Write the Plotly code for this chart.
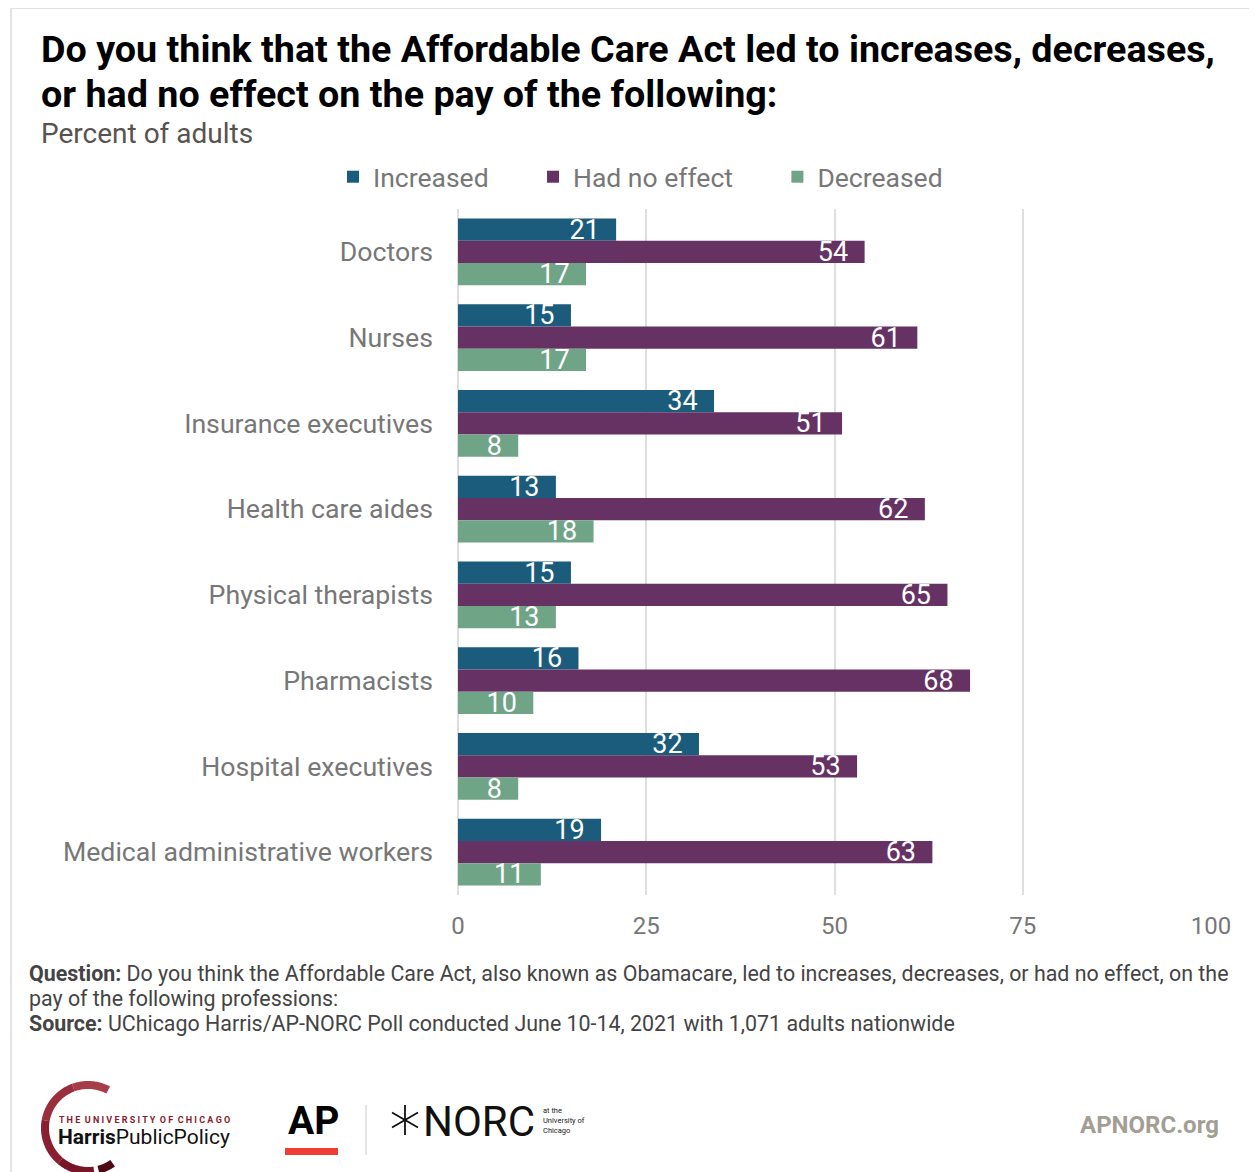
import numpy as np
import plotly.graph_objects as go

categories = ["Doctors", "Nurses", "Insurance executives", "Health care aides",
              "Physical therapists", "Pharmacists", "Hospital executives",
              "Medical administrative workers"]
increased = [21, 15, 34, 13, 15, 16, 32, 19]
no_effect = [54, 61, 51, 62, 65, 68, 53, 63]
decreased = [17, 17, 8, 18, 13, 10, 8, 11]
series_names = ["Increased", "Had no effect", "Decreased"]
series_colors = ["#1b5b7b", "#663264", "#70a487"]
x_ticks = [0, 25, 50, 75, 100]

FONT = "Roboto"

# Window / page geometry (reference pixel coordinates)
WIN_W, WIN_H = 1257, 1172
OFF = 8  # default page body margin
FIG_W, FIG_H = WIN_W - OFF, WIN_H - OFF
L, R, T, B = 458, 1211, 209, 895  # plot area in reference pixels

LEG_PAD = "\u00a0" * 6

fig = go.Figure()
for name, vals, col in zip(series_names, [increased, no_effect, decreased], series_colors):
    fig.add_trace(go.Bar(
        y=categories, x=vals, name=name + LEG_PAD, orientation="h",
        marker=dict(color=col, line=dict(width=0)),
        texttemplate="%{x}\u00a0\u00a0", textposition="inside",
        insidetextanchor="end", textangle=0,
        textfont=dict(family=FONT, size=27, color="white"),
        hoverinfo="skip",
    ))


def px(x):
    return (x - L) / (R - L)


def py(y):
    return (B - y) / (B - T)


annotations = []
shapes = []


def note(x, y, text, size, color, xanchor="left", align="left"):
    annotations.append(dict(x=px(x), y=py(y), xref="paper", yref="paper", xanchor=xanchor,
                            yanchor="middle", text=text, showarrow=False, align=align,
                            font=dict(family=FONT, size=size, color=color)))


# Title
note(39, 49, "<b>Do you think that the Affordable Care Act led to increases, decreases,</b>", 37.7, "#000000")
note(39, 94, "<b>or had no effect on the pay of the following:</b>", 37.7, "#000000")
note(39, 133, "Percent of adults", 28, "#58534e")

# Footer notes
foot = [
    "<b>Question:</b> Do you think the Affordable Care Act, also known as Obamacare, led to increases, decreases, or had no effect, on the",
    "pay of the following professions:",
    "<b>Source:</b> UChicago Harris/AP-NORC Poll conducted June 10-14, 2021 with 1,071 adults nationwide",
]
for i, t in enumerate(foot):
    note(27, 973 + i * 25.5, t, 21.4, "#444444")

# APNORC.org
note(1221, 1125, "<b>APNORC.org</b>", 24, "#a39e93", xanchor="right")

# Harris logo text
note(57, 1120, "<b>T H E  U N I V E R S I T Y  O F  C H I C A G O</b>", 9, "#8b1a2b")
note(56, 1137, "<b>Harris</b>PublicPolicy", 21, "#111111")


def arc_path(cx, cy, r_out, r_in, a0, a1, n=40):
    angs = np.linspace(np.radians(a0), np.radians(a1), n)
    outer = [(px(cx + r_out * np.cos(a)), py(cy - r_out * np.sin(a))) for a in angs]
    inner = [(px(cx + r_in * np.cos(a)), py(cy - r_in * np.sin(a))) for a in angs[::-1]]
    pts = outer + inner
    return "M " + " L ".join(f"{x:.5f},{y:.5f}" for x, y in pts) + " Z"


arc_segments = [(62, 110, "#a83d4a"), (110, 170, "#9a2e3d"), (170, 230, "#8a1f30"),
                (230, 278, "#781526"), (284, 305, "#4e0a14")]
for a0, a1, col in arc_segments:
    shapes.append(dict(type="path", xref="paper", yref="paper",
                       path=arc_path(88, 1128, 47, 39, a0, a1), fillcolor=col, line=dict(width=0)))

# AP logo
note(313, 1121, "<b>AP</b>", 39, "#000000", xanchor="center")
shapes.append(dict(type="rect", xref="paper", yref="paper", x0=px(285), x1=px(338), y0=py(1148), y1=py(1155),
                   fillcolor="#ef3e36", line=dict(width=0)))
shapes.append(dict(type="line", xref="paper", yref="paper", x0=px(366), x1=px(366), y0=py(1105), y1=py(1155),
                   line=dict(color="#dddddd", width=1.5)))

# NORC logo
cxs, cys, rs = 405, 1120, 15
for ang in [90, 30, -30]:
    a = np.radians(ang)
    shapes.append(dict(type="line", xref="paper", yref="paper",
                       x0=px(cxs - rs * np.cos(a)), y0=py(cys + rs * np.sin(a)),
                       x1=px(cxs + rs * np.cos(a)), y1=py(cys - rs * np.sin(a)),
                       line=dict(color="#111111", width=1.8)))
note(421, 1121, "NORC", 42, "#111111")
note(541, 1120, "at the<br>University of<br>Chicago", 7.5, "#222222")

# Frame
shapes.append(dict(type="line", xref="paper", yref="paper", x0=px(11), x1=px(WIN_W), y0=py(8), y1=py(8),
                   line=dict(color="#e2e2e2", width=2)))
shapes.append(dict(type="line", xref="paper", yref="paper", x0=px(11), x1=px(11), y0=py(8), y1=py(WIN_H),
                   line=dict(color="#e2e2e2", width=2)))

fig.update_layout(
    width=FIG_W, height=FIG_H,
    margin=dict(l=L - OFF, r=WIN_W - R, t=T - OFF, b=WIN_H - B, autoexpand=False),
    paper_bgcolor="white", plot_bgcolor="white",
    barmode="group", bargap=0.22, bargroupgap=0,
    uniformtext=dict(mode="show", minsize=27),
    font=dict(family=FONT, color="#777777"),
    showlegend=True,
    legend=dict(orientation="h", x=px(333), y=py(177), xanchor="left", yanchor="middle",
                font=dict(family=FONT, size=26.5, color="#777777"), itemwidth=30,
                traceorder="normal", bgcolor="rgba(0,0,0,0)"),
    xaxis=dict(range=[0, 100], tickvals=x_ticks, ticktext=[str(v) for v in x_ticks],
               showgrid=True, gridcolor="#dedede", gridwidth=2,
               zeroline=True, zerolinecolor="#dedede", zerolinewidth=2,
               showline=False, ticks="", ticklabelstandoff=14,
               tickfont=dict(family=FONT, size=24, color="#777777"), fixedrange=True),
    yaxis=dict(autorange="reversed", showgrid=False, ticks="", showline=False,
               ticklabelstandoff=24,
               tickfont=dict(family=FONT, size=26.7, color="#777777"), fixedrange=True),
    annotations=annotations, shapes=shapes,
)

fig.write_html("out.html")
